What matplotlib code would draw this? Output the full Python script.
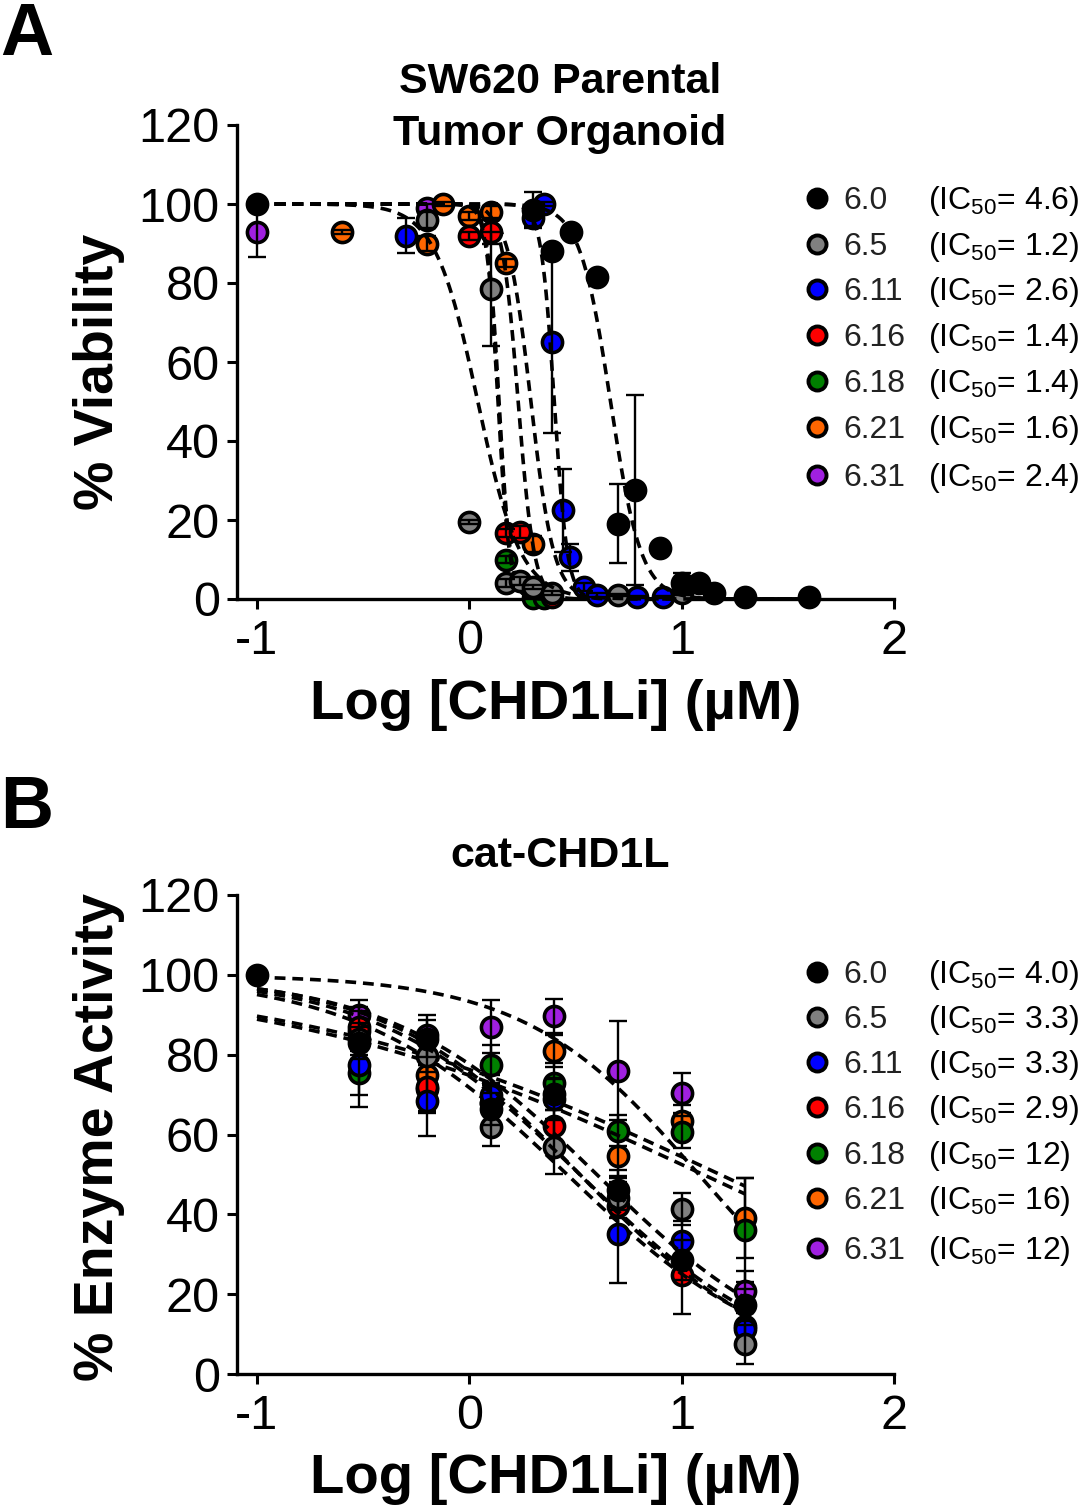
import numpy as np
import matplotlib
matplotlib.use("Agg")
import matplotlib.pyplot as plt

plt.rcParams['font.family'] = ['Liberation Sans', 'DejaVu Sans']
plt.rcParams['axes.unicode_minus'] = False
plt.rcParams['mathtext.fontset'] = 'custom'
plt.rcParams['mathtext.rm'] = 'Liberation Sans'
plt.rcParams['mathtext.it'] = 'Liberation Sans:italic'
plt.rcParams['mathtext.bf'] = 'Liberation Sans:bold'

# ---------------- data ----------------
compounds = ["6.0", "6.5", "6.11", "6.16", "6.18", "6.21", "6.31"]
colors = ["#000000", "#808080", "#0000FF", "#FF0000", "#008000", "#FF6600", "#A020E0"]

ic50_a = ["4.6", "1.2", "2.6", "1.4", "1.4", "1.6", "2.4"]
ic50_b = ["4.0", "3.3", "3.3", "2.9", "12", "16", "12"]

# Panel A: SW620 parental tumor organoid viability
a_black_x = [-1.0, 0.30, 0.39, 0.48, 0.60, 0.70, 0.78, 0.90, 1.00, 1.08, 1.15, 1.30, 1.60]
a_black_y = [100, 98.5, 88, 93, 81.5, 19, 27.6, 13, 4, 4, 1.5, 0.5, 0.5]
a_black_e = [1.5, 4.5, 1, 1, 1, 10, 24, 1, 2.6, 1, 0.5, 0.3, 0.3]

a_gray_x = [-0.2, 0.0, 0.1, 0.175, 0.24, 0.30, 0.39, 0.70, 1.0]
a_gray_y = [96, 19.5, 78.5, 4, 4.5, 3, 1.5, 1, 1.5]
a_gray_e = [2, 0.5, 14.5, 1, 1, 0.5, 0.5, 0.3, 0.5]

a_blue_x = [-0.3, 0.30, 0.35, 0.39, 0.44, 0.475, 0.54, 0.60, 0.79, 0.91]
a_blue_y = [92, 96.5, 100, 65, 22.5, 10.6, 3, 1, 0.5, 0.5]
a_blue_e = [4.5, 2, 0.5, 23, 10.5, 3.4, 1, 0.5, 0.3, 0.3]

a_red_x = [0.0, 0.1, 0.175, 0.24, 0.39]
a_red_y = [92, 93, 16.7, 17, 0.5]
a_red_e = [1, 3, 1, 1.5, 0.3]

a_green_x = [0.175, 0.30, 0.35]
a_green_y = [10, 0.3, 0.3]
a_green_e = [1, 0.3, 0.3]

a_orange_x = [-0.6, -0.2, -0.125, 0.0, 0.1, 0.175, 0.30]
a_orange_y = [93, 90, 100, 97, 98, 85, 14]
a_orange_e = [0.5, 2, 0.5, 1, 1.5, 1, 2]

a_purple_x = [-1.0, -0.2]
a_purple_y = [93, 99]
a_purple_e = [6.4, 1]

# fitted-curve parameters (log IC50 midpoint, Hill slope) for panel A
a_fit_mid = [0.665, 0.04, 0.40, 0.135, 0.14, 0.23, 0.29]
a_fit_hill = [6.0, 4.3, 14.0, 16.0, 16.0, 11.5, 8.0]

# Panel B: cat-CHD1L enzyme activity
b_black_x = [-1.0, -0.52, -0.2, 0.1, 0.4, 0.7, 1.0, 1.3]
b_black_y = [100, 83, 84, 66.5, 70.2, 46, 28.5, 17.2]
b_black_e = [0.5, 4, 4.7, 4, 4, 5, 5, 4]

b_x = [-0.52, -0.2, 0.1, 0.4, 0.7, 1.0, 1.3]
b_gray_y = [84, 79.6, 62, 56.8, 44, 41.4, 7.4]
b_gray_e = [4, 4, 5, 6.8, 5, 4, 5]
b_blue_y = [77.5, 68.5, 70, 69, 35, 33.3, 11.3]
b_blue_e = [7.5, 9, 5, 5, 12.3, 5, 4]
b_red_y = [87, 72, 68, 62.2, 42, 24.8, 12]
b_red_e = [5, 6, 5, 4, 6, 9.8, 4]
b_green_y = [75.5, 71.5, 77.5, 72.8, 61, 60.7, 36]
b_green_e = [8.5, 6, 5, 5, 4, 4, 13]
b_orange_y = [86, 75, 68, 81, 54.6, 63.4, 39]
b_orange_e = [5, 6, 5, 4, 5, 4, 10]
b_purple_y = [90, 85, 87, 89.7, 76, 70.5, 20.8]
b_purple_e = [3.7, 5, 6.7, 4.3, 12.4, 5, 5]

b_fit_mid = [0.60, 0.52, 0.52, 0.46, 1.10, 1.18, 1.08]
b_fit_hill = [0.9, 0.9, 0.95, 0.88, 0.43, 0.43, 1.06]

a_series = [(a_black_x, a_black_y, a_black_e), (a_gray_x, a_gray_y, a_gray_e),
            (a_blue_x, a_blue_y, a_blue_e), (a_red_x, a_red_y, a_red_e),
            (a_green_x, a_green_y, a_green_e), (a_orange_x, a_orange_y, a_orange_e),
            (a_purple_x, a_purple_y, a_purple_e)]
b_series = [(b_black_x, b_black_y, b_black_e), (b_x, b_gray_y, b_gray_e),
            (b_x, b_blue_y, b_blue_e), (b_x, b_red_y, b_red_e),
            (b_x, b_green_y, b_green_e), (b_x, b_orange_y, b_orange_e),
            (b_x, b_purple_y, b_purple_e)]

# ---------------- figure ----------------
W, H = 1083, 1505
fig = plt.figure(figsize=(W / 100, H / 100), dpi=100)


def px_axes(left, right, top, bottom):
    return fig.add_axes([left / W, 1 - bottom / H, (right - left) / W, (bottom - top) / H])


def hill(x, mid, h):
    return 100.0 / (1.0 + 10 ** (h * (x - mid)))


def draw_panel(ax, series, mids, hills, xmax_curve):
    n = len(series)
    for idx in reversed(range(n)):
        x, y, e = series[idx]
        base = 3 + (n - idx) * 0.1
        ax.plot(x, y, 'o', ms=14.5, mfc=colors[idx], mec='black', mew=2.6,
                zorder=base, clip_on=False)
        ax.errorbar(x, y, yerr=e, fmt='none', ecolor='black', elinewidth=1.7,
                    capsize=6.5, capthick=1.7, zorder=base + 0.01, clip_on=False)
        xc = np.linspace(-1.0, xmax_curve, 400)
        ax.plot(xc, hill(xc, mids[idx], hills[idx]), color='black', lw=2.6,
                dashes=(3.0, 1.9), zorder=base + 0.02, clip_on=False)
    ax.set_xlim(-1.094, 2.0)
    ax.set_ylim(0, 120)
    ax.set_xticks([-1, 0, 1, 2])
    ax.set_xticklabels(["-1", "0", "1", "2"])
    ax.set_yticks([0, 20, 40, 60, 80, 100, 120])
    ax.set_yticklabels(["0", "20", "40", "60", "80", "100", "120"])
    for s in ['top', 'right']:
        ax.spines[s].set_visible(False)
    for s in ['left', 'bottom']:
        ax.spines[s].set_linewidth(2.4)
    ax.tick_params(axis='both', direction='out', length=7.5, width=2.2,
                   labelsize=35, pad=5)
    ax.tick_params(axis='x', pad=7)
    ax.set_facecolor('none')


axA = px_axes(237, 894, 125, 599)
draw_panel(axA, a_series, a_fit_mid, a_fit_hill, 1.6)
axB = px_axes(237, 894, 895, 1374)
draw_panel(axB, b_series, b_fit_mid, b_fit_hill, 1.3)

# overlay in pixel coordinates for annotations
ov = fig.add_axes([0, 0, 1, 1], zorder=10)
ov.set_xlim(0, W)
ov.set_ylim(H, 0)
ov.axis('off')
ov.patch.set_alpha(0)

ov.text(0, 55, "A", fontsize=53, fontweight='bold', ha='left', va='baseline')
ov.text(0, 828, "B", fontsize=53, fontweight='bold', ha='left', va='baseline')

ov.text(560, 93, "SW620 Parental", fontsize=31, fontweight='bold', ha='center', va='baseline')
ov.text(560, 145, "Tumor Organoid", fontsize=31, fontweight='bold', ha='center', va='baseline')
ov.text(560, 867, "cat-CHD1L", fontsize=31, fontweight='bold', ha='center', va='baseline')

ov.text(556, 719, "Log [CHD1Li] (µM)", fontsize=40.5, fontweight='bold', ha='center', va='baseline')
ov.text(556, 1493, "Log [CHD1Li] (µM)", fontsize=40.5, fontweight='bold', ha='center', va='baseline')

ov.text(113, 372, "% Viability", fontsize=40, fontweight='bold', rotation=90,
        rotation_mode='anchor', ha='center', va='baseline')
ov.text(113, 1137, "% Enzyme Activity", fontsize=40, fontweight='bold', rotation=90,
        rotation_mode='anchor', ha='center', va='baseline')

rows_a = [198, 244, 289, 335, 381, 427, 475]
rows_b = [972, 1017, 1062, 1107, 1153, 1198, 1248]
for rows, ics in ((rows_a, ic50_a), (rows_b, ic50_b)):
    for i, yy in enumerate(rows):
        ov.plot([817], [yy], 'o', ms=13, mfc=colors[i], mec='black', mew=2.8)
        ov.text(843, yy + 11, compounds[i], fontsize=23, color='#222222',
                ha='left', va='baseline')
        ov.text(928, yy + 11, r"(IC$_{\mathrm{50}}$= " + ics[i] + ")", fontsize=23,
                color='black', ha='left', va='baseline')

fig.savefig("out.png", dpi=100)
